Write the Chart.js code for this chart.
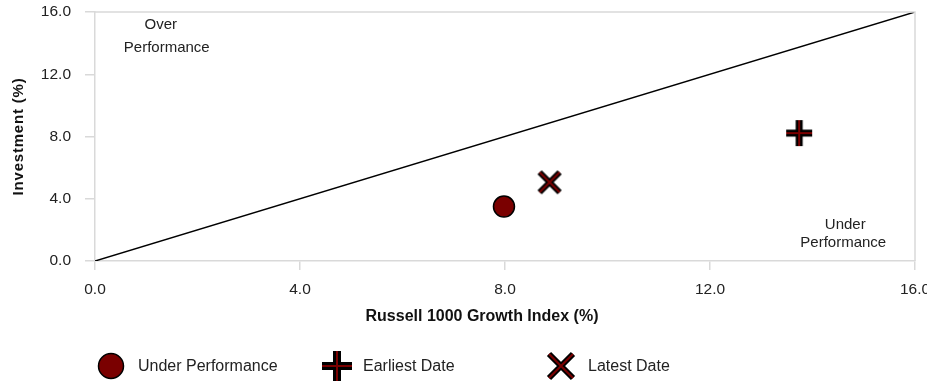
<!DOCTYPE html>
<html>
<head>
<meta charset="utf-8">
<script src="https://cdn.jsdelivr.net/npm/chart.js@4.4.1/dist/chart.umd.min.js"></script>
<style>
  html, body { margin: 0; padding: 0; background: #fff; }
  #wrap { width: 927px; height: 385px; position: relative; }
</style>
</head>
<body>
<div id="wrap"><canvas id="chart" width="927" height="385"></canvas></div>
<script>
// data
const underPerf = [{ x: 7.98, y: 3.5 }];
const earliest = [{ x: 13.74, y: 8.22 }];
const latest = [{ x: 8.87, y: 5.06 }];
const diagonal = [{ x: 0, y: 0 }, { x: 16, y: 16 }];
const tickValues = [0, 4, 8, 12, 16];
const legendNames = ["Under Performance", "Earliest Date", "Latest Date"];

const MAROON = "#7a0000";
const FONT = "'Liberation Sans', Arial, sans-serif";

// marker images: thick black stroke with a thin red stroke on top
function makeMarker(kind, size, thick) {
  const c = document.createElement("canvas");
  c.width = size + 10;
  c.height = size + 10;
  const ctx = c.getContext("2d");
  const m = c.width / 2;
  const h = size / 2;
  ctx.beginPath();
  if (kind === "plus") {
    ctx.moveTo(m - h, m); ctx.lineTo(m + h, m);
    ctx.moveTo(m, m - h); ctx.lineTo(m, m + h);
  } else {
    ctx.moveTo(m - h, m - h); ctx.lineTo(m + h, m + h);
    ctx.moveTo(m + h, m - h); ctx.lineTo(m - h, m + h);
  }
  ctx.lineCap = "butt";
  ctx.strokeStyle = "#000";
  ctx.lineWidth = thick;
  ctx.stroke();
  ctx.strokeStyle = MAROON;
  ctx.lineWidth = 2;
  ctx.stroke();
  return c;
}

const plusImg = makeMarker("plus", 26, 7);
const crossImg = makeMarker("x", 20, 6);

// frame, titles, quadrant labels, legend
const extras = {
  id: "extras",
  afterDraw(chart) {
    const { ctx, chartArea: a, scales } = chart;
    ctx.save();
    ctx.strokeStyle = "#d9d9d9";
    ctx.lineWidth = 1.5;
    ctx.beginPath();
    ctx.moveTo(a.left, a.top);
    ctx.lineTo(a.right, a.top);
    ctx.lineTo(a.right, a.bottom);
    ctx.stroke();

    ctx.fillStyle = "#222";
    ctx.font = "15px " + FONT;
    ctx.textAlign = "center";
    ctx.textBaseline = "middle";
    const ox = scales.x.getPixelForValue(1.4);
    const oy = scales.y.getPixelForValue(15.2);
    ctx.fillText("Over", ox - 6, oy);
    ctx.fillText("Performance", ox, oy + 23);
    const ux = scales.x.getPixelForValue(14.6);
    const uy = scales.y.getPixelForValue(2.3);
    ctx.fillText("Under", ux + 2, uy);
    ctx.fillText("Performance", ux, uy + 18);

    // x title (sits left of the plot centre in the original)
    ctx.font = "bold 16px " + FONT;
    ctx.fillStyle = "#111";
    ctx.fillText("Russell 1000 Growth Index (%)", 482, 317);

    // y title with letter spacing
    ctx.save();
    ctx.translate(19, (a.top + a.bottom) / 2);
    ctx.rotate(-Math.PI / 2);
    ctx.font = "bold 15px " + FONT;
    ctx.letterSpacing = "0.8px";
    ctx.fillText("Investment (%)", 0, 0);
    ctx.restore();

    // legend
    const ly = 366;
    ctx.beginPath();
    ctx.arc(111, ly, 12.5, 0, Math.PI * 2);
    ctx.fillStyle = MAROON;
    ctx.fill();
    ctx.strokeStyle = "#000";
    ctx.lineWidth = 1.5;
    ctx.stroke();
    const bigPlus = makeMarker("plus", 30, 8);
    const bigX = makeMarker("x", 24, 6);
    ctx.drawImage(bigPlus, 337 - bigPlus.width / 2, ly - bigPlus.height / 2);
    ctx.drawImage(bigX, 561 - bigX.width / 2, ly - bigX.height / 2);
    ctx.fillStyle = "#222";
    ctx.font = "16px " + FONT;
    ctx.textAlign = "left";
    ctx.fillText(legendNames[0], 138, ly + 1);
    ctx.fillText(legendNames[1], 363, ly + 1);
    ctx.fillText(legendNames[2], 588, ly + 1);
    ctx.restore();
  }
};

const tickFmt = (v) => (tickValues.includes(v) ? v.toFixed(1) : "");

new Chart(document.getElementById("chart"), {
  type: "scatter",
  data: {
    datasets: [
      {
        type: "line",
        label: "diag",
        data: diagonal,
        borderColor: "#000",
        borderWidth: 1.5,
        pointRadius: 0,
        fill: false,
      },
      {
        label: legendNames[0],
        data: underPerf,
        pointStyle: "circle",
        pointRadius: 10.5,
        backgroundColor: MAROON,
        borderColor: "#000",
        borderWidth: 1.5,
      },
      {
        label: legendNames[1],
        data: earliest,
        pointStyle: plusImg,
      },
      {
        label: legendNames[2],
        data: latest,
        pointStyle: crossImg,
      },
    ],
  },
  options: {
    responsive: false,
    animation: false,
    layout: { padding: { left: 0, right: 12, top: 11, bottom: 60 } },
    plugins: { legend: { display: false }, tooltip: { enabled: false } },
    scales: {
      x: {
        type: "linear",
        min: 0,
        max: 16,
        afterBuildTicks: (s) => { s.ticks = tickValues.map((v) => ({ value: v })); },
        afterFit: (s) => { s.height = 64; s.paddingLeft = 0; s.paddingRight = 0; },
        ticks: { callback: tickFmt, color: "#222", font: { family: FONT, size: 15.5 }, maxRotation: 0, padding: 10 },
        grid: { drawOnChartArea: false, drawTicks: true, tickLength: 9, color: "#d9d9d9", lineWidth: 1.5 },
        border: { color: "#d9d9d9", width: 1.5 },
      },
      y: {
        type: "linear",
        min: 0,
        max: 16,
        afterBuildTicks: (s) => { s.ticks = tickValues.map((v) => ({ value: v })); },
        afterFit: (s) => { s.width = 95; s.paddingTop = 0; s.paddingBottom = 0; },
        ticks: { callback: tickFmt, color: "#222", font: { family: FONT, size: 15.5 }, padding: 14 },
        grid: { drawOnChartArea: false, drawTicks: true, tickLength: 10, color: "#d9d9d9", lineWidth: 1.5 },
        border: { color: "#d9d9d9", width: 1.5 },
      },
    },
  },
  plugins: [extras],
});
</script>
</body>
</html>
